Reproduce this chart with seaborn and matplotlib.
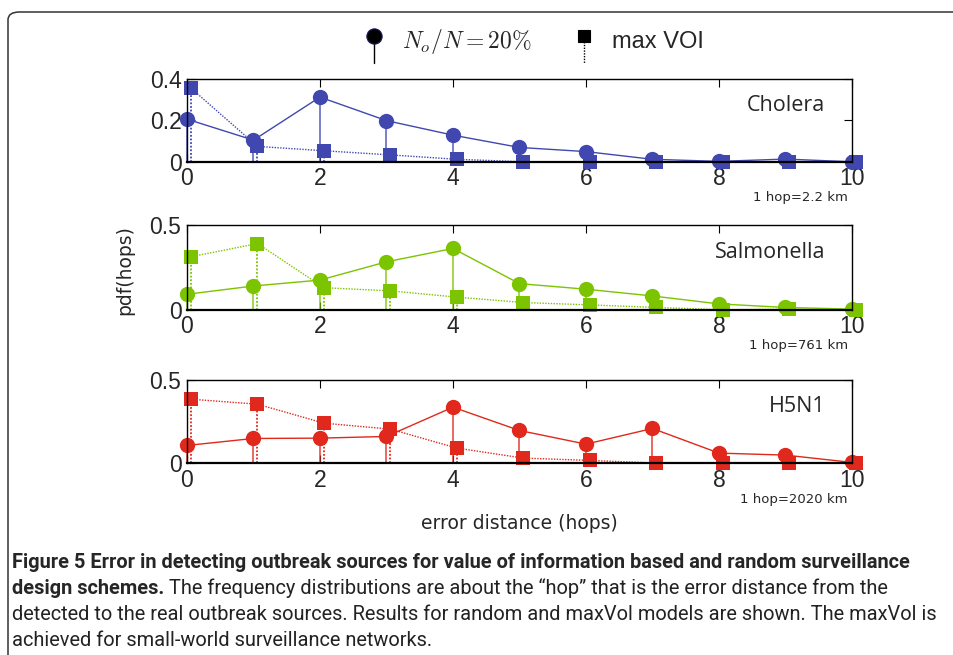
import numpy as np
import pandas as pd
import seaborn as sns
import matplotlib.pyplot as plt
from matplotlib.lines import Line2D
from matplotlib.patches import FancyBboxPatch
from matplotlib.legend_handler import HandlerBase

# error distance in hops
hops = list(range(11))

# pdf(hops)
cholera_random = [0.205, 0.104, 0.311, 0.198, 0.128, 0.069, 0.049, 0.012, 0.002, 0.013, 0.0]
cholera_voi = [0.354, 0.074, 0.053, 0.033, 0.012, 0.0, 0.0, 0.0, 0.0, 0.0, 0.0]
salmonella_random = [0.092, 0.141, 0.176, 0.284, 0.363, 0.155, 0.122, 0.082, 0.035, 0.014, 0.004]
salmonella_voi = [0.314, 0.392, 0.131, 0.112, 0.075, 0.043, 0.029, 0.014, 0.0, 0.004, 0.0]
h5n1_random = [0.106, 0.148, 0.150, 0.160, 0.336, 0.196, 0.114, 0.208, 0.060, 0.048, 0.004]
h5n1_voi = [0.384, 0.354, 0.240, 0.204, 0.090, 0.030, 0.016, 0.0, 0.0, 0.0, 0.0]

diseases = ["Cholera", "Salmonella", "H5N1"]
hop_scales = ["1 hop=2.2 km", "1 hop=761 km", "1 hop=2020 km"]
colors = ["#4048b0", "#7cc400", "#e0281c"]
ymax = [0.4, 0.5, 0.5]
yticks = [[0, 0.2, 0.4], [0, 0.5], [0, 0.5]]
ytick_labels = [["0", "0.2", "0.4"], ["0", "0.5"], ["0", "0.5"]]

caption_bold_1 = "Figure 5 Error in detecting outbreak sources for value of information based and random surveillance"
caption_bold_2 = "design schemes."
caption_rest = [
    " The frequency distributions are about the \u201chop\u201d that is the error distance from the",
    "detected to the real outbreak sources. Results for random and maxVol models are shown. The maxVol is",
    "achieved for small-world surveillance networks.",
]

sns.set_theme(style="ticks")
plt.rcParams["font.family"] = ["Liberation Sans", "DejaVu Sans"]
plt.rcParams["mathtext.fontset"] = "cm"

fig = plt.figure(figsize=(9.54, 6.55), dpi=100)

# rounded frame around the figure
frame = FancyBboxPatch((8 / 954, -0.05), 1.2, 1 - 12 / 655 + 0.05,
                       boxstyle="round,pad=0,rounding_size=0.012",
                       transform=fig.transFigure, fill=False,
                       edgecolor="#333333", linewidth=1.1, clip_on=False)
fig.patches.append(frame)

boxes = [[0.196, 0.753, 0.697, 0.127],
         [0.196, 0.527, 0.697, 0.129],
         [0.196, 0.293, 0.697, 0.127]]

random_data = [cholera_random, salmonella_random, h5n1_random]
voi_data = [cholera_voi, salmonella_voi, h5n1_voi]
offset = 0.06

for i, box in enumerate(boxes):
    ax = fig.add_axes(box)
    c = colors[i]
    df = pd.DataFrame({"hops": hops, "random": random_data[i], "voi": voi_data[i]})
    df["hops_voi"] = df["hops"] + offset

    ax.vlines(df["hops"], 0, df["random"], color=c, lw=1.3, alpha=0.75, clip_on=False)
    ax.vlines(df["hops_voi"], 0, df["voi"], color=c, lw=1.3, linestyles=(0, (1, 1)), clip_on=False)
    sns.lineplot(data=df, x="hops_voi", y="voi", ax=ax, color=c, lw=1.0,
                 linestyle=(0, (1, 1)), marker="s", markersize=9.5, markeredgewidth=0)
    sns.lineplot(data=df, x="hops", y="random", ax=ax, color=c, lw=1.0,
                 marker="o", markersize=11, markeredgewidth=0)
    for ln in ax.lines:
        ln.set_clip_on(False)

    ax.set_xlim(0, 10)
    ax.set_ylim(0, ymax[i])
    ax.set_xticks([0, 2, 4, 6, 8, 10])
    ax.set_xticklabels(["0", "2", "4", "6", "8", "10"])
    ax.set_yticks(yticks[i])
    ax.set_yticklabels(ytick_labels[i])
    ax.set_xlabel("")
    ax.set_ylabel("")
    ax.tick_params(direction="in", top=True, right=True, length=6, width=0.8,
                   labelsize=16.5, pad=4, color="black")
    for sp in ax.spines.values():
        sp.set_linewidth(1.0)
        sp.set_color("black")
    ax.spines["bottom"].set_linewidth(1.6)
    ax.set_facecolor("none")

    ax.text(0.96, 0.68, diseases[i], transform=ax.transAxes, ha="right", va="center",
            fontsize=15.5, family=["Open Sans", "DejaVu Sans"])
    ax.annotate(hop_scales[i], xy=(1, 0), xycoords="axes fraction", xytext=(-3, -26),
                textcoords="offset points", ha="right", va="center", fontsize=9.5,
                family=["DejaVu Sans"])
    if i == 2:
        ax.set_xlabel("error distance (hops)", fontsize=13.5, family=["DejaVu Sans"],
                      labelpad=16)

fig.text(125 / 954, 1 - 270 / 655, "pdf(hops)", rotation=90, ha="center", va="center",
         fontsize=13.5, family=["DejaVu Sans"])


class StemHandle(HandlerBase):
    def __init__(self, marker, size, dotted):
        super().__init__()
        self.marker = marker
        self.size = size
        self.dotted = dotted

    def create_artists(self, legend, orig_handle, xdescent, ydescent, width, height, fontsize, trans):
        cx = width / 2 - xdescent
        top = height * 0.75
        stem = Line2D([cx, cx], [top, -height * 0.85], color="black", lw=1.0,
                      linestyle=(0, (1, 1)) if self.dotted else "-", transform=trans)
        mk = Line2D([cx], [top], marker=self.marker, markersize=self.size, color="black",
                    markeredgecolor="#1a1a60" if not self.dotted else "black",
                    markeredgewidth=0.8, linestyle="none", transform=trans)
        return [stem, mk]


h1 = Line2D([], [])
h2 = Line2D([], [])
fig.legend([h1, h2], [r"$N_o/N=20\%$", "max VOI"],
           handler_map={h1: StemHandle("o", 11, False), h2: StemHandle("s", 9, True)},
           loc="center", bbox_to_anchor=(532 / 954, 1 - 42 / 655), ncol=2, frameon=False,
           fontsize=17, handlelength=1.2, handletextpad=0.6, columnspacing=1.6)

# caption
cap_font = ["Roboto", "DejaVu Sans"]
cap_size = 14.4
x0 = 12 / 954
fig.text(x0, 1 - 562 / 655, caption_bold_1, fontsize=cap_size, fontweight="bold",
         family=cap_font, va="center", ha="left")
b2 = fig.text(x0, 1 - 589 / 655, caption_bold_2, fontsize=cap_size, fontweight="bold",
              family=cap_font, va="center", ha="left")
plt.annotate(caption_rest[0], xy=(1, 0), xycoords=b2, fontsize=cap_size, family=cap_font,
             va="bottom", ha="left", color="#222222", annotation_clip=False)
fig.text(x0, 1 - 615 / 655, caption_rest[1], fontsize=cap_size, family=cap_font,
         va="center", ha="left", color="#222222")
fig.text(x0, 1 - 640 / 655, caption_rest[2], fontsize=cap_size, family=cap_font,
         va="center", ha="left", color="#222222")

fig.savefig("out.png", dpi=100)
